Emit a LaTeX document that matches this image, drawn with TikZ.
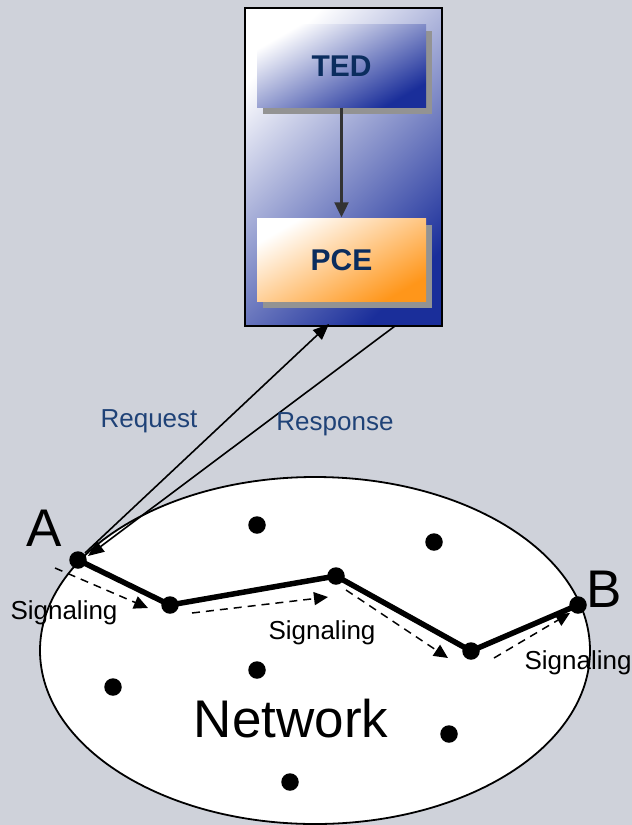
\documentclass[tikz,border=0pt]{standalone}
\usepackage{fontspec}
\setmainfont{Liberation Sans}
\usetikzlibrary{arrows.meta,shadows,calc}
\definecolor{bg}{HTML}{CFD2DA}
\definecolor{navy}{HTML}{0B2D5E}
\definecolor{lblue}{HTML}{1F4277}
\definecolor{dblue}{HTML}{1A2E9A}
\definecolor{orng}{HTML}{FF961A}
\definecolor{shgray}{HTML}{939393}
\definecolor{arrgray}{HTML}{333333}
\begin{document}
\begin{tikzpicture}[x=1pt,y=-1pt,
  outerbox/.style={draw=black, line width=2pt, minimum width=197pt, minimum height=318pt,
    inner sep=0pt, shading=axis, top color=white, bottom color=dblue, shading angle=45},
  innerbox/.style={minimum width=169pt, minimum height=83pt, inner sep=0pt,
    font=\fontsize{30}{34}\selectfont\bfseries, text=navy,
    drop shadow={shadow xshift=6pt, shadow yshift=-6pt, opacity=1, fill=shgray}},
  tedbox/.style={innerbox, shading=axis, top color=white, bottom color=dblue, shading angle=30},
  pcebox/.style={innerbox, shading=axis, top color=white, bottom color=orng, shading angle=30},
  dot/.style={circle, fill=black, inner sep=0pt, minimum size=17.5pt},
  pathline/.style={line width=5.5pt, line join=round},
  sig/.style={line width=1.5pt, dash pattern=on 8pt off 6pt, -{Triangle[length=14pt, width=13pt]}},
  msg/.style={line width=1.6pt, -{Triangle[length=16pt, width=13pt]}},
  siglabel/.style={font=\fontsize{26}{30}\selectfont, text=black, inner sep=0pt},
  msglabel/.style={font=\fontsize{26}{30}\selectfont, text=lblue, inner sep=0pt},
  endlabel/.style={font=\fontsize{53}{60}\selectfont, inner sep=0pt}
]
\fill[bg] (0,0) rectangle (632,825);
\useasboundingbox (0,0) rectangle (632,825);

% network ellipse
\draw[fill=white, line width=1.8pt] (315,650.5) ellipse [x radius=275, y radius=173.5];
\node[font=\fontsize{53}{60}\selectfont, inner sep=0pt] (net) at (291,719) {Network};

% server box
\node[outerbox] (outer) at (343.5,167) {};
\node[tedbox] (ted) at (341.5,66) {TED};
\node[pcebox] (pce) at (341.5,260) {PCE};
\draw[line width=2.2pt, draw=arrgray, -{Triangle[length=15pt, width=14pt]}, shorten >=1pt] (ted.south) -- (pce.north);

% network dots
\node[dot] (A) at (78,560) {};
\node[dot] (n1) at (170,605) {};
\node[dot] (n2) at (336,576) {};
\node[dot] (n3) at (471,651) {};
\node[dot] (B) at (578,605) {};
\node[dot] (d1) at (257,525) {};
\node[dot] (d2) at (434,542) {};
\node[dot] (d3) at (113,687) {};
\node[dot] (d4) at (257,670) {};
\node[dot] (d5) at (449,734) {};
\node[dot] (d6) at (290,782) {};

\draw[pathline] (A.center) -- (n1.center) -- (n2.center) -- (n3.center) -- (B.center);

% labels A and B
\node[endlabel] (lA) at (44,528) {A};
\node[endlabel] (lB) at (604,589) {B};

% request / response
\coordinate (reqS) at (85,553);
\coordinate (reqE) at (329,324);
\coordinate (resS) at (395,326);
\coordinate (resE) at (88,556);
\draw[msg] (reqS) -- (reqE);
\draw[msg] (resS) -- (resE);
\node[msglabel] (req) at (149,421) {Request};
\node[msglabel] (res) at (335,424) {Response};

% signaling arrows
\coordinate (s1a) at (55,568);  \coordinate (s1b) at (148,608);
\coordinate (s2a) at (192,613); \coordinate (s2b) at (328,597);
\coordinate (s3a) at (346,590); \coordinate (s3b) at (448,658);
\coordinate (s4a) at (494,658); \coordinate (s4b) at (570,613);
\draw[sig] (s1a) -- (s1b);
\draw[sig] (s2a) -- (s2b);
\draw[sig] (s3a) -- (s3b);
\draw[sig] (s4a) -- (s4b);
\node[siglabel] (sl1) at (64,613) {Signaling};
\node[siglabel] (sl2) at (322,633) {Signaling};
\node[siglabel] (sl3) at (578,663) {Signaling};
\end{tikzpicture}
\end{document}
